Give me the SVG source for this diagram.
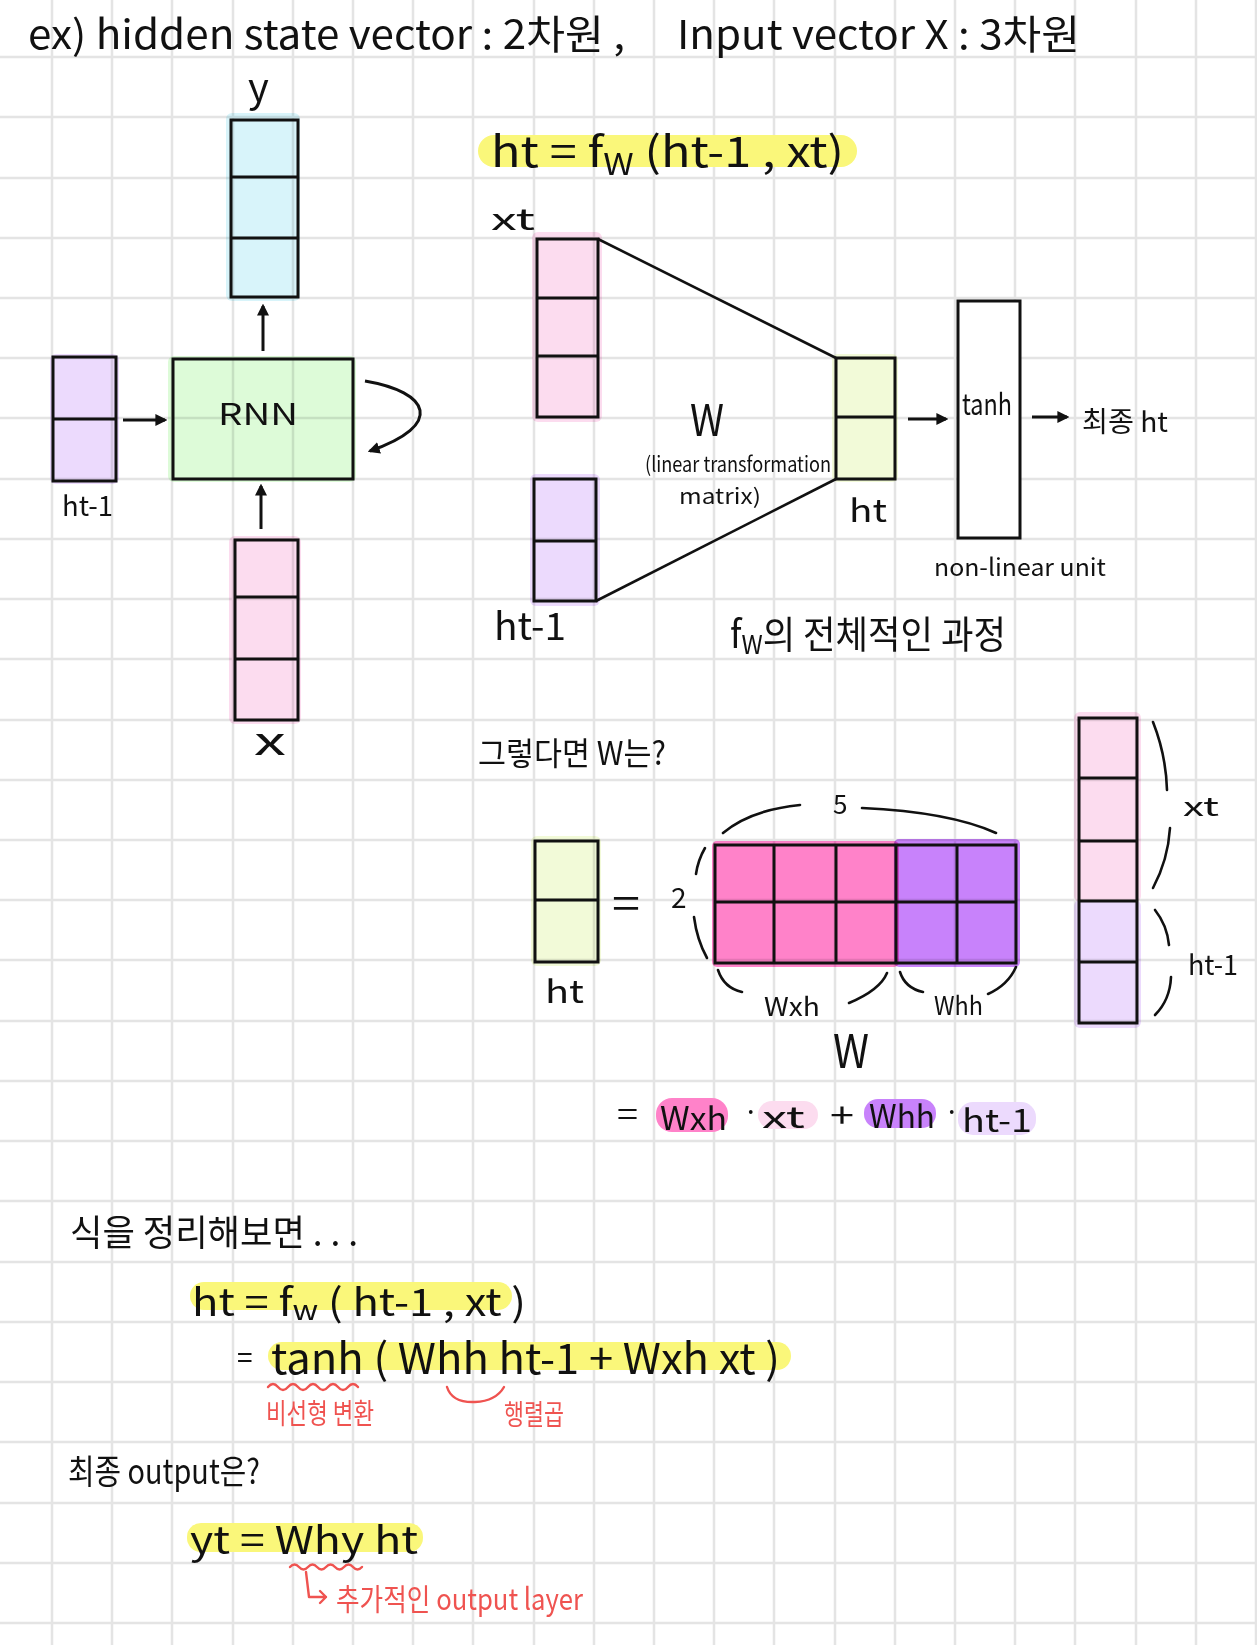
<svg xmlns="http://www.w3.org/2000/svg" width="1257" height="1645" viewBox="0 0 1257 1645">
<style>
.t{font-family:'Noto Sans CJK KR','Noto Sans',sans-serif;fill:#111}
.r{fill:#ef5350}
.box{fill:none;stroke:#111;stroke-width:3}
.div{stroke:#111;stroke-width:3}
.hl{mix-blend-mode:multiply}
.ln{fill:none;stroke:#111;stroke-width:2.6;stroke-linecap:round}
.rl{fill:none;stroke:#ef5350;stroke-width:2.4;stroke-linecap:round;stroke-linejoin:round}
.grid{stroke:#e4e4e4;stroke-width:2.5}
</style>
<defs>
<marker id="ah" viewBox="0 0 10 10" refX="8" refY="5" markerWidth="12" markerHeight="12" orient="auto" markerUnits="userSpaceOnUse"><path d="M0,0 L10,5 L0,10 z" fill="#111"/></marker>
</defs>
<rect width="1257" height="1645" fill="#fff"/>
<path class="grid" d="M52 0V1645M112 0V1645M172 0V1645M233 0V1645M293 0V1645M353 0V1645M413 0V1645M473 0V1645M534 0V1645M594 0V1645M654 0V1645M714 0V1645M774 0V1645M835 0V1645M895 0V1645M955 0V1645M1015 0V1645M1075 0V1645M1136 0V1645M1196 0V1645M1256 0V1645M0 57H1257M0 117H1257M0 178H1257M0 238H1257M0 298H1257M0 358H1257M0 418H1257M0 479H1257M0 539H1257M0 599H1257M0 659H1257M0 720H1257M0 780H1257M0 840H1257M0 900H1257M0 960H1257M0 1021H1257M0 1081H1257M0 1141H1257M0 1201H1257M0 1262H1257M0 1322H1257M0 1382H1257M0 1442H1257M0 1503H1257M0 1563H1257M0 1623H1257"/>

<g id="title">
<text class="t" x="28" y="49" font-size="40" textLength="597" lengthAdjust="spacingAndGlyphs">ex) hidden state vector : 2차원 ,</text>
<text class="t" x="677" y="49" font-size="40" textLength="403" lengthAdjust="spacingAndGlyphs">Input vector X : 3차원</text>
</g>

<!-- Left RNN diagram -->
<g id="y-vector">
<rect class="hl" x="226" y="113" width="74" height="188" rx="6" fill="#d8f4fa"/>
<rect class="box" x="231" y="120" width="67" height="177"/>
<line class="div" x1="231" y1="177" x2="298" y2="177"/>
<line class="div" x1="231" y1="238" x2="298" y2="238"/>
<text class="t" x="248" y="102" font-size="40">y</text>
</g>
<g id="rnn">
<rect class="hl" x="168" y="356" width="188" height="126" rx="6" fill="#ddfbd8"/>
<rect class="box" x="173" y="359" width="180" height="120"/>
<text class="t" x="218" y="425" font-size="30" textLength="80" lengthAdjust="spacingAndGlyphs">RNN</text>
</g>
<g id="h-prev">
<rect class="hl" x="50" y="354" width="69" height="130" rx="6" fill="#ecdafd"/>
<rect class="box" x="53" y="357" width="63" height="124"/>
<line class="div" x1="53" y1="419" x2="116" y2="419"/>
<text class="t" x="62" y="516" font-size="28" textLength="51" lengthAdjust="spacingAndGlyphs">ht-1</text>
</g>
<g id="x-vector">
<rect class="hl" x="229" y="536" width="72" height="188" rx="6" fill="#fcdcef"/>
<rect class="box" x="235" y="540" width="63" height="180"/>
<line class="div" x1="235" y1="597" x2="298" y2="597"/>
<line class="div" x1="235" y1="659" x2="298" y2="659"/>
<text class="t" x="254" y="755" font-size="38" textLength="32" lengthAdjust="spacingAndGlyphs">x</text>
</g>

<!-- f_W process -->
<g id="formula-top">
<rect x="478" y="135" width="379" height="32" rx="16" fill="#faf77a"/>
<text class="t" x="491" y="167" font-size="42" textLength="353" lengthAdjust="spacingAndGlyphs">ht = f<tspan font-size="30" dy="8">W</tspan><tspan dy="-8"> (ht-1 , xt)</tspan></text>
</g>
<g id="xt-vector">
<rect class="hl" x="532" y="232" width="70" height="190" rx="6" fill="#fcdcef"/>
<rect class="box" x="537" y="239" width="61" height="178"/>
<line class="div" x1="537" y1="298" x2="598" y2="298"/>
<line class="div" x1="537" y1="356" x2="598" y2="356"/>
<text class="t" x="491" y="230" font-size="30" textLength="44" lengthAdjust="spacingAndGlyphs">xt</text>
</g>
<g id="ht1-vector">
<rect class="hl" x="530" y="474" width="70" height="132" rx="6" fill="#ecdafd"/>
<rect class="box" x="534" y="479" width="62" height="122"/>
<line class="div" x1="534" y1="541" x2="596" y2="541"/>
<text class="t" x="494" y="640" font-size="38" textLength="72" lengthAdjust="spacingAndGlyphs">ht-1</text>
</g>
<g id="W-label">
<text class="t" x="690" y="436" font-size="44" textLength="34" lengthAdjust="spacingAndGlyphs">W</text>
<text class="t" x="645" y="472" font-size="21" textLength="186" lengthAdjust="spacingAndGlyphs">(linear transformation</text>
<text class="t" x="679" y="504" font-size="21" textLength="82" lengthAdjust="spacingAndGlyphs">matrix)</text>
</g>
<g id="ht-vector">
<rect class="hl" x="832" y="354" width="66" height="128" rx="6" fill="#f2fad8"/>
<rect class="box" x="836" y="358" width="59" height="121"/>
<line class="div" x1="836" y1="417" x2="895" y2="417"/>
<text class="t" x="849" y="522" font-size="32" textLength="38" lengthAdjust="spacingAndGlyphs">ht</text>
</g>
<g id="tanh">
<rect x="958" y="301" width="62" height="237" fill="#fff" stroke="#111" stroke-width="3"/>
<text class="t" x="962" y="415" font-size="30" textLength="50" lengthAdjust="spacingAndGlyphs">tanh</text>
<text class="t" x="934" y="576" font-size="24" textLength="172" lengthAdjust="spacingAndGlyphs">non-linear unit</text>
</g>
<g id="final-ht">
<text class="t" x="1082" y="432" font-size="28" textLength="86" lengthAdjust="spacingAndGlyphs">최종 ht</text>
</g>
<g id="fw-caption">
<text class="t" x="730" y="648" font-size="38" textLength="276" lengthAdjust="spacingAndGlyphs">f<tspan font-size="26" dy="6">W</tspan><tspan dy="-6">의 전체적인 과정</tspan></text>
</g>

<!-- W matrix section -->
<g id="question">
<text class="t" x="478" y="765" font-size="32" textLength="188" lengthAdjust="spacingAndGlyphs">그렇다면 W는?</text>
</g>
<g id="ht-vector2">
<rect class="hl" x="531" y="836" width="70" height="130" rx="6" fill="#f2fad8"/>
<rect class="box" x="535" y="841" width="63" height="121"/>
<line class="div" x1="535" y1="900" x2="598" y2="900"/>
<text class="t" x="545" y="1003" font-size="32" textLength="39" lengthAdjust="spacingAndGlyphs">ht</text>
<text class="t" x="612" y="918" font-size="40" textLength="28" lengthAdjust="spacingAndGlyphs">=</text>
</g>
<g id="W-matrix">
<rect class="hl" x="712" y="841" width="187" height="126" rx="5" fill="#ff82c9"/>
<rect class="hl" x="894" y="839" width="126" height="128" rx="5" fill="#c882fb"/>
<rect class="box" x="715" y="845" width="301" height="118"/>
<line class="div" x1="715" y1="902" x2="1016" y2="902"/>
<line class="div" x1="774" y1="845" x2="774" y2="963"/>
<line class="div" x1="836" y1="845" x2="836" y2="963"/>
<line class="div" x1="896" y1="845" x2="896" y2="963"/>
<line class="div" x1="957" y1="845" x2="957" y2="963"/>
<path class="ln" d="M705 848 Q698 860 696 874 M694 917 Q697 940 707 958"/>
<text class="t" x="671" y="908" font-size="28">2</text>
<path class="ln" d="M723 833 Q750 810 800 805 M862 808 Q950 812 996 833"/>
<text class="t" x="833" y="814" font-size="26">5</text>
<path class="ln" d="M718 970 Q724 988 742 992 M849 1003 Q880 990 887 973"/>
<text class="t" x="764" y="1016" font-size="26" textLength="56" lengthAdjust="spacingAndGlyphs">Wxh</text>
<path class="ln" d="M900 972 Q905 988 923 992 M988 994 Q1008 985 1016 967"/>
<text class="t" x="934" y="1015" font-size="26" textLength="49" lengthAdjust="spacingAndGlyphs">Whh</text>
<text class="t" x="833" y="1068" font-size="46" textLength="36" lengthAdjust="spacingAndGlyphs">W</text>
</g>
<g id="concat-vector">
<rect class="hl" x="1074" y="712" width="67" height="190" rx="6" fill="#fcdcef"/>
<rect class="hl" x="1074" y="900" width="67" height="128" rx="6" fill="#ecdafd"/>
<rect class="box" x="1079" y="718" width="58" height="305"/>
<line class="div" x1="1079" y1="778" x2="1137" y2="778"/>
<line class="div" x1="1079" y1="841" x2="1137" y2="841"/>
<line class="div" x1="1079" y1="901" x2="1137" y2="901"/>
<line class="div" x1="1079" y1="962" x2="1137" y2="962"/>
<path class="ln" d="M1153 722 Q1166 755 1167 790 M1170 828 Q1168 860 1153 888"/>
<text class="t" x="1183" y="816" font-size="26" textLength="36" lengthAdjust="spacingAndGlyphs">xt</text>
<path class="ln" d="M1155 910 Q1167 925 1169 945 M1171 977 Q1170 1000 1155 1015"/>
<text class="t" x="1188" y="975" font-size="28" textLength="50" lengthAdjust="spacingAndGlyphs">ht-1</text>
</g>
<g id="W-expansion">
<text class="t" x="617" y="1125" font-size="30" textLength="21" lengthAdjust="spacingAndGlyphs">=</text>
<rect x="656" y="1098" width="72" height="34" rx="16" fill="#ff82c9"/>
<text class="t" x="660" y="1130" font-size="32" textLength="67" lengthAdjust="spacingAndGlyphs">Wxh</text>
<text class="t" x="743" y="1122" font-size="28">·</text>
<rect x="758" y="1101" width="60" height="28" rx="14" fill="#fcdcef"/>
<text class="t" x="762" y="1128" font-size="30" textLength="43" lengthAdjust="spacingAndGlyphs">xt</text>
<text class="t" x="830" y="1128" font-size="34" textLength="24" lengthAdjust="spacingAndGlyphs">+</text>
<rect x="864" y="1099" width="72" height="29" rx="14" fill="#c882fb"/>
<text class="t" x="869" y="1128" font-size="32" textLength="66" lengthAdjust="spacingAndGlyphs">Whh</text>
<text class="t" x="944" y="1122" font-size="28">·</text>
<rect x="958" y="1102" width="78" height="33" rx="15" fill="#ecdafd"/>
<text class="t" x="962" y="1132" font-size="32" textLength="70" lengthAdjust="spacingAndGlyphs">ht-1</text>
</g>

<!-- Summary -->
<g id="summary">
<text class="t" x="70" y="1246" font-size="36" textLength="288" lengthAdjust="spacingAndGlyphs">식을 정리해보면 . . .</text>
<rect x="190" y="1282" width="322" height="28" rx="14" fill="#faf77a"/>
<text class="t" x="192" y="1316" font-size="38" textLength="334" lengthAdjust="spacingAndGlyphs">ht = f<tspan font-size="28" dy="4">w</tspan><tspan dy="-4"> ( ht-1 , xt )</tspan></text>
<text class="t" x="237" y="1368" font-size="28">=</text>
<rect x="268" y="1342" width="523" height="28" rx="14" fill="#faf77a"/>
<text class="t" x="271" y="1374" font-size="42" textLength="509" lengthAdjust="spacingAndGlyphs">tanh ( Whh ht-1 + Wxh xt )</text>
<path class="rl" d="M268 1387 q5 -6 10 0 t10 0 t10 0 t10 0 t10 0 t10 0 t10 0 t10 0 t10 0"/>
<text class="t r" x="266" y="1424" font-size="28" textLength="108" lengthAdjust="spacingAndGlyphs">비선형 변환</text>
<path class="rl" d="M447 1387 Q452 1403 475 1402 Q496 1401 504 1387"/>
<text class="t r" x="504" y="1425" font-size="28" textLength="60" lengthAdjust="spacingAndGlyphs">행렬곱</text>
</g>
<g id="output">
<text class="t" x="68" y="1484" font-size="34" textLength="192" lengthAdjust="spacingAndGlyphs">최종 output은?</text>
<rect x="187" y="1523" width="236" height="29" rx="14" fill="#faf77a"/>
<text class="t" x="190" y="1554" font-size="38" textLength="228" lengthAdjust="spacingAndGlyphs">yt = Why ht</text>
<path class="rl" d="M290 1567 q4.5 -5 9 0 t9 0 t9 0 t9 0 t9 0 t9 0 t9 0 t9 0"/>
<path class="rl" d="M306 1572 L309 1597 L326 1597 M320 1591 L326 1597 L320 1603"/>
<text class="t r" x="336" y="1610" font-size="30" textLength="247" lengthAdjust="spacingAndGlyphs">추가적인 output layer</text>
</g>

<g id="connectors" fill="none" stroke="#111" stroke-width="3">
<line x1="263" y1="351" x2="263" y2="306" marker-end="url(#ah)"/>
<line x1="123" y1="420" x2="165" y2="420" marker-end="url(#ah)"/>
<line x1="261" y1="529" x2="261" y2="486" marker-end="url(#ah)"/>
<path d="M365 381 C430 392 445 425 370 451" marker-end="url(#ah)"/>
<line x1="598" y1="239" x2="836" y2="358" stroke-width="2.6"/>
<line x1="596" y1="601" x2="836" y2="479" stroke-width="2.6"/>
<line x1="908" y1="419" x2="946" y2="419" marker-end="url(#ah)"/>
<line x1="1032" y1="417" x2="1067" y2="417" marker-end="url(#ah)"/>
</g>
</svg>
